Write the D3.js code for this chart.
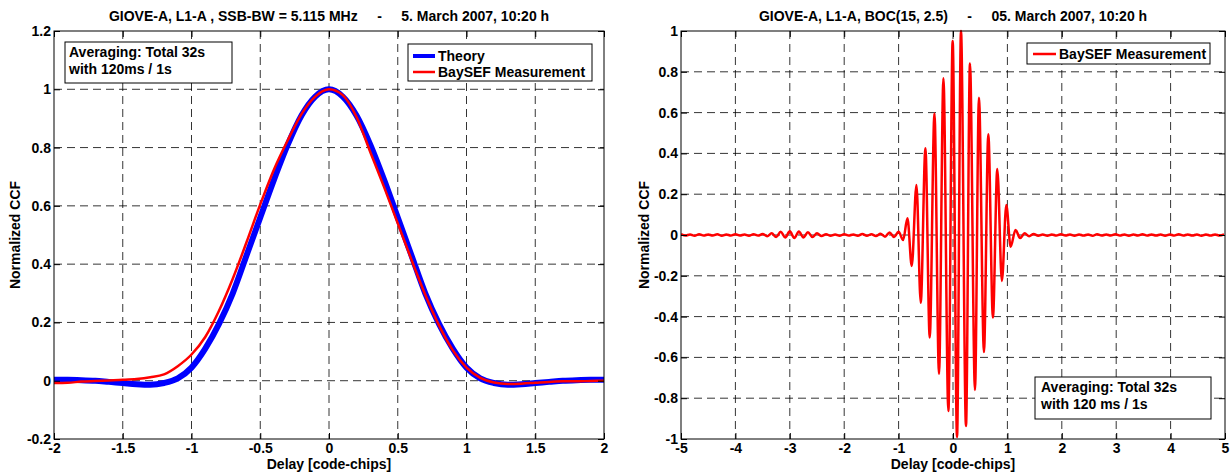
<!DOCTYPE html>
<html>
<head>
<meta charset="utf-8">
<script src="https://cdn.jsdelivr.net/npm/d3@7"></script>
<style>
  body { margin: 0; background: #fff; }
  text { font-family: "Liberation Sans", Arial, Helvetica, sans-serif; font-weight: bold; font-size: 14px; fill: #000; }
</style>
</head>
<body>
<svg id="chart"></svg>
<script>
// left panel: SSB-BW = 5.115 MHz, theory vs measurement
const leftDelay = [-2, -1.9, -1.8, -1.7, -1.6, -1.5, -1.4, -1.3, -1.2, -1.1, -1, -0.9, -0.8, -0.7, -0.6, -0.5, -0.4, -0.3, -0.2, -0.1,
  0, 0.1, 0.2, 0.3, 0.4, 0.5, 0.6, 0.7, 0.8, 0.9, 1, 1.1, 1.2, 1.3, 1.4, 1.5, 1.6, 1.7, 1.8, 1.9, 2]
const leftTheory = [0.003, 0.003, 0.002, 0, -0.004, -0.008, -0.012, -0.014, -0.008, 0.008, 0.045, 0.11, 0.195, 0.30, 0.43, 0.56, 0.69, 0.81, 0.91, 0.975,
  1.0, 0.975, 0.91, 0.81, 0.69, 0.56, 0.43, 0.30, 0.195, 0.11, 0.045, 0.008, -0.008, -0.014, -0.012, -0.008, -0.004, 0, 0.002, 0.003, 0.003]
const leftMeasured = [-0.008, -0.007, -0.003, -0.001, 0.001, 0.003, 0.006, 0.012, 0.022, 0.05, 0.09, 0.15, 0.24, 0.35, 0.475, 0.605, 0.725, 0.825, 0.915, 0.975,
  1.0, 0.98, 0.905, 0.785, 0.665, 0.54, 0.415, 0.295, 0.19, 0.105, 0.045, 0.01, -0.006, -0.011, -0.01, -0.007, -0.004, -0.002, -0.002, -0.001, 0]
const leftXTicks = [-2, -1.5, -1, -0.5, 0, 0.5, 1, 1.5, 2]
const leftYTicks = [-0.2, 0, 0.2, 0.4, 0.6, 0.8, 1, 1.2]

// right panel: BOC(15, 2.5) measurement
const rightXTicks = [-5, -4, -3, -2, -1, 0, 1, 2, 3, 4, 5]
const rightYTicks = [-1, -0.8, -0.6, -0.4, -0.2, 0, 0.2, 0.4, 0.6, 0.8, 1]
const rippleStep = 1 / 12
// small side lobes, sampled every half subcarrier period from -5
const rippleLeft = [0.004, -0.003, 0.003, -0.004, 0.004, -0.003, 0.003, -0.003, 0.004, -0.004,
  0.003, -0.003, 0.004, -0.003, 0.003, -0.004, 0.004, -0.003, 0.005, -0.006,
  0.008, -0.01, 0.016, -0.012, 0.018, -0.015, 0.017, -0.012, 0.014, -0.01,
  0.008, -0.005, 0.004, -0.004, 0.003, -0.004, 0.004, -0.003, 0.003, -0.004,
  0.005, -0.004, 0.004, -0.005, 0.006, -0.008, 0.012, -0.01]
// main lobe peaks and troughs
const peakDelay = [-1.0, -0.917, -0.837, -0.758, -0.672, -0.593, -0.507, -0.428, -0.341, -0.257, -0.176, -0.085, -0.006,
  0.074, 0.147, 0.239, 0.312, 0.404, 0.477, 0.569, 0.649, 0.734, 0.814, 0.899, 0.98, 1.059, 1.15]
const peakCcf = [0.016, -0.025, 0.082, -0.152, 0.245, -0.332, 0.425, -0.503, 0.596, -0.681, 0.768, -0.863, 0.951,
  -0.99, 1.0, -0.936, 0.841, -0.76, 0.673, -0.574, 0.494, -0.405, 0.324, -0.225, 0.147, -0.057, 0.025]
// side lobes after the main lobe, continuing from 1.15
const rippleRight = [-0.015, 0.008, -0.006, 0.005, -0.004, 0.003, -0.004, 0.003, -0.003, 0.004,
  -0.003, 0.003, -0.004, 0.003, -0.003, 0.003, -0.004, 0.004, -0.003, 0.003,
  -0.003, 0.004, -0.003, 0.003, -0.004, 0.003, -0.003, 0.004, -0.003, 0.003,
  -0.003, 0.003, -0.004, 0.003, -0.003, 0.004, -0.003, 0.003, -0.003, 0.003,
  -0.004, 0.003, -0.003, 0.003, -0.003, 0.003]

const width = 1231
const height = 474

const svg = d3.select("#chart")
  .attr("width", width)
  .attr("height", height)

let clipId = 0

function drawPanel(p) {
  const x = d3.scaleLinear().domain(p.xDomain).range([p.x0, p.x1])
  const y = d3.scaleLinear().domain(p.yDomain).range([p.y1, p.y0])
  const g = svg.append("g")

  // dashed grid
  g.append("g")
    .selectAll("line")
    .data(p.xTicks.slice(1, -1))
    .join("line")
    .attr("x1", d => x(d)).attr("x2", d => x(d))
    .attr("y1", p.y0).attr("y2", p.y1)
    .attr("stroke", "#000").attr("stroke-width", 0.8).attr("stroke-dasharray", "8,5")
  g.append("g")
    .selectAll("line")
    .data(p.yTicks.slice(1, -1))
    .join("line")
    .attr("y1", d => y(d)).attr("y2", d => y(d))
    .attr("x1", p.x0).attr("x2", p.x1)
    .attr("stroke", "#000").attr("stroke-width", 0.8).attr("stroke-dasharray", "8,5")

  // curves
  const id = "clip" + (clipId++)
  g.append("clipPath").attr("id", id)
    .append("rect")
    .attr("x", p.x0).attr("y", p.y0 - 3)
    .attr("width", p.x1 - p.x0).attr("height", p.y1 - p.y0 + 6)

  const line = d3.line()
    .x(d => x(d[0]))
    .y(d => y(d[1]))
    .curve(d3.curveMonotoneX)

  p.series.forEach(s => {
    g.append("path")
      .attr("clip-path", `url(#${id})`)
      .attr("d", line(s.points))
      .attr("fill", "none")
      .attr("stroke", s.color)
      .attr("stroke-width", s.width)
      .attr("stroke-linejoin", "round")
  })

  // axes, matlab style inward ticks
  const styleAxis = a => {
    a.attr("font-size", 14).attr("font-family", null)
    a.select(".domain").remove()
    a.selectAll("line").attr("stroke", "#000")
  }
  g.append("g").attr("transform", `translate(0,${p.y1})`)
    .call(d3.axisBottom(x).tickValues(p.xTicks).tickSizeInner(-6).tickSizeOuter(0).tickPadding(4).tickFormat(d => d))
    .call(styleAxis)
  g.append("g").attr("transform", `translate(0,${p.y0})`)
    .call(d3.axisTop(x).tickValues(p.xTicks).tickSizeInner(-6).tickSizeOuter(0).tickFormat(""))
    .call(styleAxis)
  g.append("g").attr("transform", `translate(${p.x0},0)`)
    .call(d3.axisLeft(y).tickValues(p.yTicks).tickSizeInner(-6).tickSizeOuter(0).tickPadding(3).tickFormat(d => d))
    .call(styleAxis)
  g.append("g").attr("transform", `translate(${p.x1},0)`)
    .call(d3.axisRight(y).tickValues(p.yTicks).tickSizeInner(-6).tickSizeOuter(0).tickFormat(""))
    .call(styleAxis)

  g.append("rect")
    .attr("x", p.x0).attr("y", p.y0)
    .attr("width", p.x1 - p.x0).attr("height", p.y1 - p.y0)
    .attr("fill", "none").attr("stroke", "#000").attr("stroke-width", 1)

  // titles
  const cx = (p.x0 + p.x1) / 2
  g.append("text").attr("x", cx).attr("y", 21).attr("text-anchor", "middle")
    .attr("xml:space", "preserve").text(p.title)
  g.append("text").attr("x", cx).attr("y", 469).attr("text-anchor", "middle")
    .text("Delay [code-chips]")
  g.append("text")
    .attr("transform", `translate(${p.yTitleX},${(p.y0 + p.y1) / 2}) rotate(-90)`)
    .attr("text-anchor", "middle").attr("dy", "0.35em")
    .text("Normalized CCF")

  return { x, y, g }
}

function box(g, x, y, w, h) {
  g.append("rect").attr("x", x).attr("y", y).attr("width", w).attr("height", h)
    .attr("fill", "#fff").attr("stroke", "#000").attr("stroke-width", 1)
}

// ---- left panel
const left = drawPanel({
  x0: 54, x1: 604, y0: 31, y1: 439,
  xDomain: [-2, 2], yDomain: [-0.2, 1.2],
  xTicks: leftXTicks, yTicks: leftYTicks,
  yTitleX: 15,
  title: "GIOVE-A, L1-A , SSB-BW = 5.115 MHz     -     5. March 2007, 10:20 h",
  series: [
    { color: "#0000ff", width: 6, points: leftDelay.map((d, i) => [d, leftTheory[i]]) },
    { color: "#ff0000", width: 2.5, points: leftDelay.map((d, i) => [d, leftMeasured[i]]) }
  ]
})

// annotation
box(left.g, 65, 42, 167, 41)
left.g.append("text").attr("x", 69).attr("y", 57).text("Averaging: Total 32s")
left.g.append("text").attr("x", 69).attr("y", 74).text("with 120ms / 1s")

// legend
box(left.g, 408, 44, 184, 37)
left.g.append("line").attr("x1", 413).attr("x2", 435).attr("y1", 56).attr("y2", 56)
  .attr("stroke", "#0000ff").attr("stroke-width", 4)
left.g.append("text").attr("x", 438).attr("y", 56).attr("dy", "0.35em").text("Theory")
left.g.append("line").attr("x1", 413).attr("x2", 435).attr("y1", 72).attr("y2", 72)
  .attr("stroke", "#ff0000").attr("stroke-width", 2.5)
left.g.append("text").attr("x", 438).attr("y", 72).attr("dy", "0.35em").text("BaySEF Measurement")

// ---- right panel
const bocPoints = []
rippleLeft.forEach((v, k) => bocPoints.push([-5 + k * rippleStep, v]))
peakDelay.forEach((d, i) => bocPoints.push([d, peakCcf[i]]))
rippleRight.forEach((v, k) => bocPoints.push([peakDelay[peakDelay.length - 1] + (k + 1) * rippleStep, v]))

const right = drawPanel({
  x0: 681, x1: 1225, y0: 31, y1: 439,
  xDomain: [-5, 5], yDomain: [-1, 1],
  xTicks: rightXTicks, yTicks: rightYTicks,
  yTitleX: 644,
  title: "GIOVE-A, L1-A, BOC(15, 2.5)     -     05. March 2007, 10:20 h",
  series: [
    { color: "#ff0000", width: 2.5, points: bocPoints }
  ]
})

box(right.g, 1027, 43, 183, 21)
right.g.append("line").attr("x1", 1033).attr("x2", 1056).attr("y1", 54).attr("y2", 54)
  .attr("stroke", "#ff0000").attr("stroke-width", 2.5)
right.g.append("text").attr("x", 1059).attr("y", 54).attr("dy", "0.35em").text("BaySEF Measurement")

box(right.g, 1035, 377, 176, 42)
right.g.append("text").attr("x", 1041).attr("y", 392).text("Averaging: Total 32s")
right.g.append("text").attr("x", 1041).attr("y", 409).text("with 120 ms / 1s")
</script>
</body>
</html>
